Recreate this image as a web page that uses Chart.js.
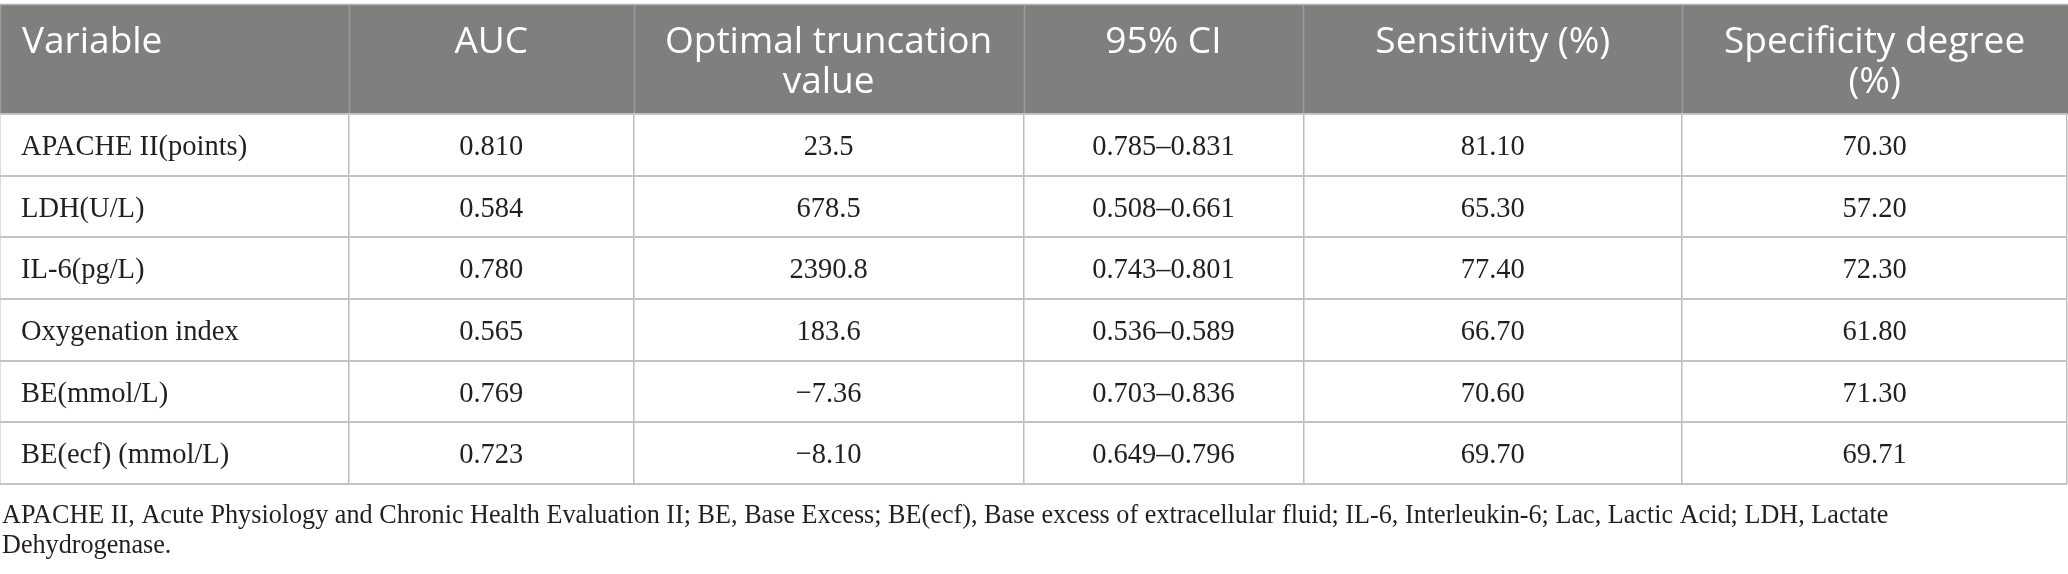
<!DOCTYPE html>
<html>
<head>
<meta charset="utf-8">
<script src="https://cdn.jsdelivr.net/npm/chart.js@4.4.1/dist/chart.umd.min.js"></script>
<style>
  html, body { margin: 0; padding: 0; background: #fff; }
  #wrap { width: 2068px; height: 574px; position: relative; }
</style>
</head>
<body>
<div id="wrap"><canvas id="rocTable"></canvas></div>
<script>
// table content, one array per column
const headers = [['Variable'], ['AUC'], ['Optimal truncation', 'value'], ['95% CI'], ['Sensitivity (%)'], ['Specificity degree', '(%)']];
const variables = ['APACHE II(points)', 'LDH(U/L)', 'IL-6(pg/L)', 'Oxygenation index', 'BE(mmol/L)', 'BE(ecf) (mmol/L)'];
const auc = ['0.810', '0.584', '0.780', '0.565', '0.769', '0.723'];
const cutoff = ['23.5', '678.5', '2390.8', '183.6', '\u22127.36', '\u22128.10'];
const ci95 = ['0.785\u20130.831', '0.508\u20130.661', '0.743\u20130.801', '0.536\u20130.589', '0.703\u20130.836', '0.649\u20130.796'];
const sensitivity = ['81.10', '65.30', '77.40', '66.70', '70.60', '69.70'];
const specificity = ['70.30', '57.20', '72.30', '61.80', '71.30', '69.71'];
const footnote = [
  'APACHE II, Acute Physiology and Chronic Health Evaluation II; BE, Base Excess; BE(ecf), Base excess of extracellular fluid; IL-6, Interleukin-6; Lac, Lactic Acid; LDH, Lactate',
  'Dehydrogenase.'
];

// layout: column edges on the hidden x scale, header height in px
const colEdges = [0, 349, 634, 1024, 1304, 1683, 2068];
const headerH = 109;
const headFont = '37px "Open Sans"';
const bodyFont = '30px "Liberation Serif"';
const noteFont = '28px "Liberation Serif"';

// serif in the source is narrower than Times, squeeze it a little
function putText(ctx, t, x, y, sx) {
  ctx.save();
  ctx.translate(x, y);
  ctx.scale(sx, 1);
  ctx.fillText(t, 0, 0);
  ctx.restore();
}

const tablePlugin = {
  id: 'tableCells',
  beforeDraw(chart) {
    const { ctx, chartArea, scales: { x } } = chart;
    const top = chartArea.top - headerH;
    ctx.save();
    ctx.fillStyle = '#fff';
    ctx.fillRect(0, 0, chart.width, chart.height);
    ctx.fillStyle = '#7f807e';
    ctx.fillRect(0, top, chart.width, headerH);
    // top border
    ctx.strokeStyle = '#b4b4b4';
    ctx.lineWidth = 1.5;
    ctx.beginPath();
    ctx.moveTo(0, top - 0.5);
    ctx.lineTo(chart.width, top - 0.5);
    ctx.stroke();
    // header separators
    ctx.strokeStyle = '#9c9c9c';
    colEdges.slice(0, -1).forEach(v => {
      const px = Math.round(x.getPixelForValue(v)) + 0.5;
      ctx.beginPath();
      ctx.moveTo(px, top);
      ctx.lineTo(px, chartArea.top);
      ctx.stroke();
    });
    ctx.restore();
  },
  afterDraw(chart) {
    const { ctx, chartArea, scales: { x, y } } = chart;
    const top = chartArea.top - headerH;
    ctx.save();
    ctx.textBaseline = 'alphabetic';
    // header text
    ctx.font = headFont;
    ctx.fillStyle = '#fff';
    headers.forEach((lines, c) => {
      const left = x.getPixelForValue(colEdges[c]);
      const right = x.getPixelForValue(colEdges[c + 1]);
      ctx.textAlign = c === 0 ? 'left' : 'center';
      const tx = c === 0 ? left + 22 : (left + right) / 2;
      lines.forEach((t, k) => ctx.fillText(t, tx, top + 48 + k * 40));
    });
    // body cells
    const columns = [variables, auc, cutoff, ci95, sensitivity, specificity];
    ctx.font = bodyFont;
    ctx.fillStyle = '#231f20';
    columns.forEach((col, c) => {
      const left = x.getPixelForValue(colEdges[c]);
      const right = x.getPixelForValue(colEdges[c + 1]);
      ctx.textAlign = c === 0 ? 'left' : 'center';
      const tx = c === 0 ? left + 21 : (left + right) / 2;
      col.forEach((t, r) => putText(ctx, t, tx, y.getPixelForValue(r) + 10, 0.95));
    });
    // footnote
    ctx.font = noteFont;
    ctx.textAlign = 'left';
    footnote.forEach((t, k) => putText(ctx, t, 2, chartArea.bottom + 39 + k * 30, 0.935));
    ctx.restore();
  }
};

new Chart(document.getElementById('rocTable'), {
  type: 'bar',
  data: { labels: variables, datasets: [] },
  options: {
    indexAxis: 'y',
    responsive: true,
    maintainAspectRatio: false,
    devicePixelRatio: 1,
    animation: false,
    layout: { padding: { top: 114, bottom: 90, left: 0, right: 1 } },
    plugins: { legend: { display: false }, tooltip: { enabled: false } },
    scales: {
      x: {
        type: 'linear', min: 0, max: 2068,
        afterBuildTicks: s => { s.ticks = colEdges.map(v => ({ value: v })); },
        ticks: { display: false },
        grid: { color: '#bcbcbc', lineWidth: 1.5, drawTicks: false },
        border: { display: false }
      },
      y: {
        type: 'category', offset: true,
        ticks: { display: false },
        grid: { offset: true, color: '#c3c3c3', lineWidth: 2, drawTicks: false },
        border: { display: false }
      }
    }
  },
  plugins: [tablePlugin]
});
</script>
</body>
</html>
